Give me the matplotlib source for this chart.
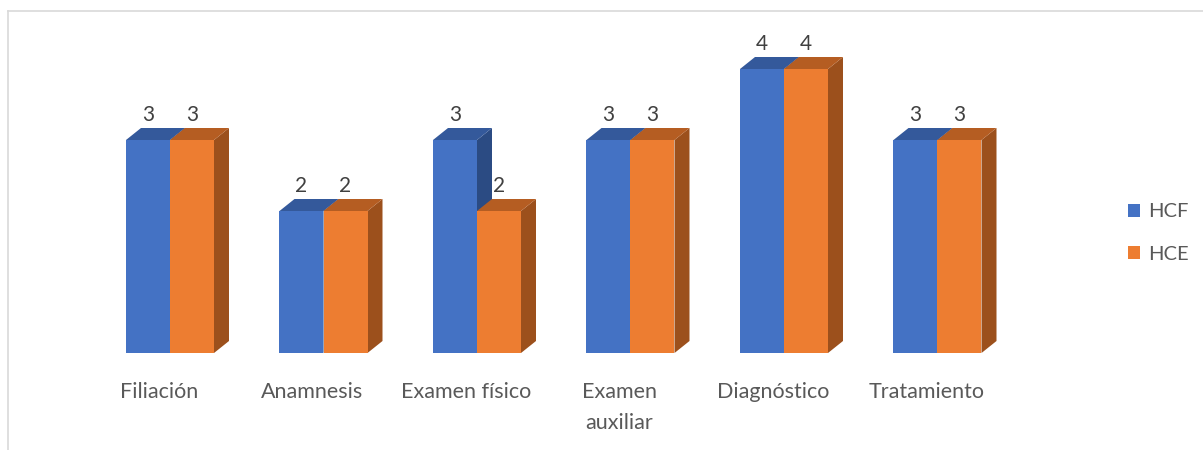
import matplotlib
matplotlib.use("Agg")
import matplotlib.pyplot as plt
from matplotlib.patches import Polygon, Patch
from matplotlib.lines import Line2D
import numpy as np

categories = ["Filiación", "Anamnesis", "Examen físico", "Examen\nauxiliar", "Diagnóstico", "Tratamiento"]
series_names = ["HCF", "HCE"]
hcf = [3, 2, 3, 3, 4, 3]
hce = [3, 2, 2, 3, 4, 3]

front_colors = ["#4472C4", "#ED7D31"]
top_colors = ["#34599B", "#B55D22"]
side_colors = ["#2B4B83", "#9C501C"]
text_color = "#595959"
font = ["Lato", "DejaVu Sans"]

W, H = 1203, 450
fig = plt.figure(figsize=(W / 100, H / 100), dpi=100)

# pixel geometry
spacing_px = 153.5
center0_px = 170
base_px = 353
unit_px = 71
xlim = (-0.5, 5.5)
ylim = (0, 4.5)
left_px = center0_px + xlim[0] * spacing_px
width_px = (xlim[1] - xlim[0]) * spacing_px
height_px = (ylim[1] - ylim[0]) * unit_px
ax = fig.add_axes([left_px / W, (H - base_px) / H, width_px / W, height_px / H])
ax.set_xlim(*xlim)
ax.set_ylim(*ylim)
ax.axis("off")

bw = 44 / spacing_px
dx = 15 / spacing_px
dy = 12 / unit_px

x = np.arange(len(categories))
for s, vals in enumerate([hcf, hce]):
    offs = (s - 0.5) * bw
    xs = x + offs
    ax.bar(xs, vals, width=bw, color=front_colors[s], zorder=2 + 3 * s, linewidth=0)
    for xi, v in zip(xs, vals):
        l, r = xi - bw / 2, xi + bw / 2
        top = Polygon([[l, v], [r, v], [r + dx, v + dy], [l + dx, v + dy]],
                      closed=True, facecolor=top_colors[s], edgecolor="none", zorder=3 + 3 * s)
        side = Polygon([[r, 0], [r + dx, dy], [r + dx, v + dy], [r, v]],
                       closed=True, facecolor=side_colors[s], edgecolor="none", zorder=1 + 3 * s)
        ax.add_patch(top)
        ax.add_patch(side)
        ax.annotate(str(v), (xi, v + dy), xytext=(0, 2), textcoords="offset points",
                    ha="center", va="bottom", fontsize=15, color="#404040", family=font,
                    annotation_clip=False)

for xi, c in zip(x, categories):
    ax.annotate(c, (xi, 0), xytext=(-8, -21), textcoords="offset points",
                ha="center", va="top", fontsize=15.5, color=text_color, family=font,
                linespacing=1.65, annotation_clip=False)

handles = [Patch(facecolor=front_colors[i], edgecolor="none") for i in range(2)]
fig.legend(handles, series_names, loc="center left",
           bbox_to_anchor=(1110 / W, 1 - 233 / H), frameon=False,
           handlelength=0.6, handleheight=0.6, handletextpad=0.4,
           labelspacing=1.25, prop={"family": font, "size": 14.5},
           labelcolor=text_color)

# chart area border
fig.add_artist(Line2D([8 / W, 1], [1 - 11 / H, 1 - 11 / H], transform=fig.transFigure,
                      color="#D9D9D9", linewidth=1.2))
fig.add_artist(Line2D([8 / W, 8 / W], [0, 1 - 11 / H], transform=fig.transFigure,
                      color="#D9D9D9", linewidth=1.2))

fig.savefig("out.png", dpi=100)
